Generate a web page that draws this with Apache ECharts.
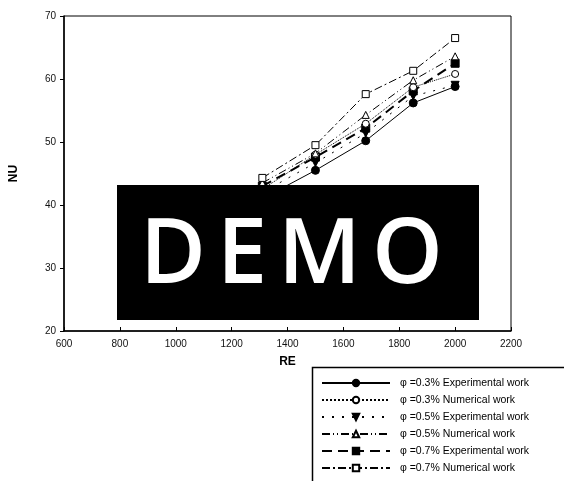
<!DOCTYPE html>
<html><head><meta charset="utf-8">
<script src="https://cdn.jsdelivr.net/npm/echarts@6/dist/echarts.min.js"></script>
<style>html,body{margin:0;padding:0;background:#fff}#c{width:564px;height:481px}</style>
</head><body><div id="c"></div>
<script>
const reValues = [1310, 1500, 1680, 1850, 2000];
const exp03 = [41.0, 45.5, 50.2, 56.2, 58.8];
const num03 = [42.5, 48.0, 52.9, 58.7, 60.8];
const exp05 = [42.0, 46.7, 51.4, 57.3, 59.0];
const num05 = [43.5, 48.2, 54.3, 59.8, 63.6];
const exp07 = [43.0, 47.6, 52.2, 58.1, 62.5];
const num07 = [44.3, 49.5, 57.6, 61.3, 66.5];
const seriesNames = [
  'φ =0.3% Experimental work',
  'φ =0.3% Numerical work',
  'φ =0.5% Experimental work',
  'φ =0.5% Numerical work',
  'φ =0.7% Experimental work',
  'φ =0.7% Numerical work'
];
const xTicks = {min: 600, max: 2200, step: 200};
const yTicks = {min: 20, max: 70, step: 10};

const pair = arr => reValues.map((x, i) => [x, arr[i]]);
const FONT = 'Liberation Sans';
function mk(name, data, symbol, lineStyle, extra) {
  return Object.assign({
    name, type: 'line', data: pair(data), symbol, symbolSize: 8,
    itemStyle: {color: '#000', borderColor: '#000', borderWidth: 1},
    lineStyle: Object.assign({color: '#000', width: 1}, lineStyle),
    z: 3
  }, extra || {});
}
const openItem = {itemStyle: {color: '#fff', borderColor: '#000', borderWidth: 1}, symbolSize: 7, z: 4};
const chart = echarts.init(document.getElementById('c'), null, {renderer: 'canvas'});
chart.setOption({
  animation: false,
  backgroundColor: '#fff',
  grid: {left: 62, top: 16, right: 53, bottom: 150, show: true, borderColor: '#000', borderWidth: 1},
  xAxis: {
    type: 'value', min: xTicks.min, max: xTicks.max, interval: xTicks.step,
    name: 'RE', nameLocation: 'middle', nameGap: 25,
    nameTextStyle: {fontFamily: FONT, fontWeight: 'bold', fontSize: 12, color: '#000'},
    axisLine: {lineStyle: {color: '#000', width: 1.5}},
    axisTick: {inside: true, length: 4, lineStyle: {color: '#000'}},
    axisLabel: {fontFamily: FONT, fontSize: 10, color: '#111', margin: 8, formatter: v => String(v)},
    splitLine: {show: false}
  },
  yAxis: {
    type: 'value', min: yTicks.min, max: yTicks.max, interval: yTicks.step,
    name: 'NU', nameLocation: 'middle', nameGap: 44, nameRotate: 90,
    nameTextStyle: {fontFamily: FONT, fontWeight: 'bold', fontSize: 12, color: '#000'},
    axisLine: {lineStyle: {color: '#000', width: 1.5}},
    axisTick: {inside: false, length: 4, lineStyle: {color: '#000'}},
    axisLabel: {fontFamily: FONT, fontSize: 10, color: '#111', margin: 8, formatter: v => String(v)},
    splitLine: {show: false}
  },
  legend: {
    orient: 'vertical', left: 316, top: 372, itemWidth: 68, itemHeight: 8, itemGap: 5, height: 200,
    textStyle: {fontFamily: FONT, fontSize: 10.5, color: '#000', lineHeight: 12, padding: [0,0,0,5]},
    data: seriesNames
  },
  series: [
    mk(seriesNames[0], exp03, 'circle', {type: 'solid'}),
    mk(seriesNames[1], num03, 'circle', {type: 'dotted'}, openItem),
    mk(seriesNames[2], exp05, 'triangle', {type: [2, 8]}, {symbolRotate: 180}),
    mk(seriesNames[3], num05, 'triangle', {type: [8, 3, 1, 3, 1, 3]}, openItem),
    mk(seriesNames[4], exp07, 'rect', {type: [10, 6], width: 2}),
    mk(seriesNames[5], num07, 'rect', {type: [8, 3, 2, 3]}, openItem)
  ],
  graphic: [
    {type: 'rect', left: 310, top: 365, shape: {width: 270, height: 130}, style: {fill: 'none', stroke: '#000', lineWidth: 1.5}, z: 1},
    {type: 'rect', left: 117, top: 185, shape: {width: 362, height: 135}, style: {fill: '#000'}, z: 100},
    {type: 'text', x: 140, y: 257, style: {text: 'D', fill: '#fff', font: '600 90px "Open Sans"', textAlign: 'left', textVerticalAlign: 'middle'}, z: 101},
    {type: 'text', x: 217, y: 257, style: {text: 'E', fill: '#fff', font: '600 90px "Open Sans"', textAlign: 'left', textVerticalAlign: 'middle'}, z: 101},
    {type: 'text', x: 278, y: 257, style: {text: 'M', fill: '#fff', font: '600 90px "Open Sans"', textAlign: 'left', textVerticalAlign: 'middle'}, z: 101},
    {type: 'text', x: 372, y: 257, style: {text: 'O', fill: '#fff', font: '600 90px "Open Sans"', textAlign: 'left', textVerticalAlign: 'middle'}, z: 101}
  ]
});
</script></body></html>
